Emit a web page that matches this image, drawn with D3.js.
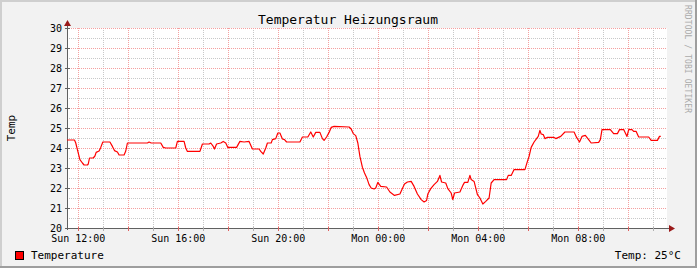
<!DOCTYPE html>
<html>

<head>
  <meta charset="utf-8">
  <title>Temperatur Heizungsraum</title>
  <style>
    body { margin: 0; background: #f2f2f2; }
    text { font-family: "DejaVu Sans Mono", monospace; fill: #000; }
  </style>
</head>

<body>
  <svg width="697" height="268"></svg>
  <script src="https://d3js.org/d3.v7.min.js"></script>
  <script>
    // readings (day + time), values in degrees C
    var times = [
      "Sun 11:33", "Sun 11:51", "Sun 11:54", "Sun 11:59", "Sun 12:04", "Sun 12:10", "Sun 12:14", "Sun 12:22",
      "Sun 12:24", "Sun 12:27", "Sun 12:36", "Sun 12:40", "Sun 12:43", "Sun 12:50", "Sun 12:54", "Sun 12:59",
      "Sun 13:16", "Sun 13:22", "Sun 13:27", "Sun 13:34", "Sun 13:38", "Sun 13:50", "Sun 13:54", "Sun 13:58",
      "Sun 14:46", "Sun 14:50", "Sun 14:55", "Sun 15:18", "Sun 15:24", "Sun 15:30", "Sun 15:54", "Sun 15:58",
      "Sun 16:14", "Sun 16:18", "Sun 16:22", "Sun 16:52", "Sun 16:58", "Sun 17:14", "Sun 17:18", "Sun 17:24",
      "Sun 17:27", "Sun 17:32", "Sun 17:42", "Sun 17:48", "Sun 17:54", "Sun 17:59", "Sun 18:20", "Sun 18:28",
      "Sun 18:38", "Sun 18:50", "Sun 18:58", "Sun 19:14", "Sun 19:18", "Sun 19:24", "Sun 19:30", "Sun 19:34",
      "Sun 19:43", "Sun 19:46", "Sun 19:54", "Sun 19:59", "Sun 20:04", "Sun 20:10", "Sun 20:15", "Sun 20:20",
      "Sun 20:52", "Sun 20:58", "Sun 21:11", "Sun 21:18", "Sun 21:24", "Sun 21:30", "Sun 21:40", "Sun 21:46",
      "Sun 21:50", "Sun 21:56", "Sun 22:02", "Sun 22:07", "Sun 22:14", "Sun 22:50", "Sun 22:55", "Sun 23:00",
      "Sun 23:06", "Sun 23:11", "Sun 23:16", "Sun 23:22", "Sun 23:27", "Sun 23:32", "Sun 23:38", "Sun 23:43",
      "Sun 23:50", "Sun 23:54", "Sun 23:59", "Mon 00:06", "Mon 00:20", "Mon 00:28", "Mon 00:39", "Mon 00:52",
      "Mon 00:58", "Mon 01:03", "Mon 01:10", "Mon 01:19", "Mon 01:26", "Mon 01:34", "Mon 01:43", "Mon 01:50",
      "Mon 01:56", "Mon 01:59", "Mon 02:06", "Mon 02:14", "Mon 02:22", "Mon 02:28", "Mon 02:32", "Mon 02:42",
      "Mon 02:47", "Mon 02:55", "Mon 02:59", "Mon 03:03", "Mon 03:16", "Mon 03:24", "Mon 03:27", "Mon 03:35",
      "Mon 03:40", "Mon 03:43", "Mon 03:50", "Mon 03:58", "Mon 04:04", "Mon 04:11", "Mon 04:18", "Mon 04:26",
      "Mon 04:31", "Mon 04:38", "Mon 05:08", "Mon 05:12", "Mon 05:19", "Mon 05:26", "Mon 05:52", "Mon 05:58",
      "Mon 06:02", "Mon 06:07", "Mon 06:14", "Mon 06:20", "Mon 06:24", "Mon 06:28", "Mon 06:31", "Mon 06:36",
      "Mon 06:40", "Mon 06:46", "Mon 07:02", "Mon 07:06", "Mon 07:18", "Mon 07:28", "Mon 07:50", "Mon 07:56",
      "Mon 08:03", "Mon 08:09", "Mon 08:17", "Mon 08:25", "Mon 08:31", "Mon 08:49", "Mon 08:53", "Mon 08:57",
      "Mon 09:17", "Mon 09:25", "Mon 09:34", "Mon 09:39", "Mon 09:49", "Mon 09:53", "Mon 09:57", "Mon 10:01",
      "Mon 10:09", "Mon 10:13", "Mon 10:19", "Mon 10:25", "Mon 10:49", "Mon 10:55", "Mon 11:10", "Mon 11:15",
      "Mon 11:18"
    ];
    var temps = [
      24.4, 24.4, 24.25, 23.83, 23.42, 23.25, 23.15, 23.15,
      23.2, 23.5, 23.5, 23.6, 23.78, 23.85, 24.03, 24.3,
      24.3, 24.08, 23.87, 23.8, 23.65, 23.65, 23.85, 24.25,
      24.25, 24.3, 24.25, 24.25, 24.03, 24.0, 24.0, 24.33,
      24.33, 24.0, 23.83, 23.83, 24.2, 24.2, 24.25, 24.08,
      23.95, 24.2, 24.25, 24.33, 24.25, 24.03, 24.03, 24.33,
      24.3, 24.33, 23.95, 23.95, 23.83, 23.7, 24.0, 24.25,
      24.25, 24.42, 24.47, 24.75, 24.75, 24.45, 24.42, 24.3,
      24.3, 24.55, 24.55, 24.8, 24.55, 24.78, 24.78, 24.47,
      24.38, 24.55, 24.78, 25.03, 25.08, 25.05, 24.95, 24.72,
      24.62, 24.25, 23.58, 23.03, 22.75, 22.53, 22.17, 22.0,
      21.95, 22.0, 22.28, 22.08, 22.05, 21.8, 21.63, 21.7,
      21.97, 22.2, 22.3, 22.33, 22.08, 21.7, 21.42, 21.3,
      21.38, 21.7, 21.97, 22.17, 22.33, 22.63, 22.3, 22.25,
      21.97, 21.75, 21.42, 21.75, 21.8, 22.17, 22.28, 22.28,
      22.63, 22.42, 22.33, 21.67, 21.5, 21.2, 21.33, 21.5,
      22.25, 22.42, 22.42, 22.63, 22.63, 22.92, 22.92, 23.33,
      23.58, 24.03, 24.3, 24.47, 24.58, 24.88, 24.7, 24.67,
      24.47, 24.53, 24.53, 24.47, 24.58, 24.8, 24.8, 24.53,
      24.3, 24.58, 24.63, 24.42, 24.25, 24.28, 24.42, 24.92,
      24.92, 24.72, 24.72, 24.92, 24.92, 24.75, 24.58, 24.92,
      24.92, 24.83, 24.83, 24.55, 24.55, 24.38, 24.38, 24.58,
      24.58
    ];
    var yTicks = [20, 21, 22, 23, 24, 25, 26, 27, 28, 29, 30];
    var title = "Temperatur Heizungsraum";
    var legendLabel = "Temperature";
    var legendValue = "Temp: 25°C";

    function parseTime(s) {
      var parts = s.split(" ");
      var hm = parts[1].split(":");
      var day = parts[0] == "Mon" ? 1 : 0;
      return new Date(2011, 0, 2 + day, +hm[0], +hm[1]);
    }
    var data = times.map(function (t, i) {
      return { time: parseTime(t), temp: temps[i] };
    });

    var plotLeft = 67, plotRight = 667, plotTop = 28, plotBottom = 228;
    var start = new Date(2011, 0, 2, 11, 33);
    var end = new Date(2011, 0, 3, 11, 33);

    var xScale = d3.scaleTime().domain([start, end]).range([plotLeft, plotRight]);
    var yScale = d3.scaleLinear().domain([20, 30]).range([plotBottom, plotTop]);

    var svg = d3.select("svg");

    // background + 3d frame
    svg.append("rect").attr("width", 697).attr("height", 268).attr("fill", "#f2f2f2");
    svg.append("rect").attr("x", 0).attr("y", 0).attr("width", 697).attr("height", 2).attr("fill", "#cfcfcf");
    svg.append("rect").attr("x", 0).attr("y", 0).attr("width", 2).attr("height", 268).attr("fill", "#cfcfcf");
    svg.append("rect").attr("x", 0).attr("y", 266).attr("width", 697).attr("height", 2).attr("fill", "#9e9e9e");
    svg.append("rect").attr("x", 695).attr("y", 0).attr("width", 2).attr("height", 268).attr("fill", "#9e9e9e");

    // canvas
    svg.append("rect")
      .attr("x", plotLeft).attr("y", plotTop)
      .attr("width", plotRight - plotLeft).attr("height", plotBottom - plotTop)
      .attr("fill", "#ffffff");

    // grid
    var hours = d3.timeHour.every(1).range(start, end);
    var halfSteps = d3.range(20.5, 30, 1);

    svg.selectAll(".hgrid-minor")
      .data(halfSteps)
      .enter().append("line")
      .attr("x1", plotLeft).attr("x2", plotRight)
      .attr("y1", d => Math.round(yScale(d)) + 0.5)
      .attr("y2", d => Math.round(yScale(d)) + 0.5)
      .attr("stroke", "#c8c8c8").attr("stroke-dasharray", "1,1");

    svg.selectAll(".vgrid")
      .data(hours)
      .enter().append("line")
      .attr("x1", d => Math.round(xScale(d)) + 0.5)
      .attr("x2", d => Math.round(xScale(d)) + 0.5)
      .attr("y1", plotTop).attr("y2", plotBottom)
      .attr("stroke", d => d.getHours() % 2 == 0 ? "#f4a0a0" : "#c8c8c8")
      .attr("stroke-dasharray", "1,1");

    svg.selectAll(".hgrid-major")
      .data(yTicks.slice(1))
      .enter().append("line")
      .attr("x1", plotLeft).attr("x2", plotRight)
      .attr("y1", d => Math.round(yScale(d)) + 0.5)
      .attr("y2", d => Math.round(yScale(d)) + 0.5)
      .attr("stroke", "#f4a0a0").attr("stroke-dasharray", "1,1");

    // axes
    svg.append("line")
      .attr("x1", plotLeft + 0.5).attr("x2", plotLeft + 0.5)
      .attr("y1", plotBottom + 2).attr("y2", plotTop - 4)
      .attr("stroke", "#606060");
    svg.append("line")
      .attr("x1", plotLeft - 2).attr("x2", plotRight + 4)
      .attr("y1", plotBottom + 0.5).attr("y2", plotBottom + 0.5)
      .attr("stroke", "#606060");
    svg.append("path")
      .attr("d", "M" + (plotLeft - 3) + "," + (plotTop - 2) + "L" + (plotLeft + 0.5) + "," + (plotTop - 8) + "L" + (plotLeft + 4) + "," + (plotTop - 2) + "Z")
      .attr("fill", "#9a1a1a");
    svg.append("path")
      .attr("d", "M" + (plotRight + 2) + "," + (plotBottom - 3) + "L" + (plotRight + 8) + "," + (plotBottom + 0.5) + "L" + (plotRight + 2) + "," + (plotBottom + 4) + "Z")
      .attr("fill", "#9a1a1a");

    // tick marks
    svg.selectAll(".ytick")
      .data(yTicks)
      .enter().append("line")
      .attr("x1", plotLeft - 2).attr("x2", plotLeft + 3)
      .attr("y1", d => Math.round(yScale(d)) + 0.5)
      .attr("y2", d => Math.round(yScale(d)) + 0.5)
      .attr("stroke", "#606060");
    svg.selectAll(".xtick")
      .data(hours)
      .enter().append("line")
      .attr("x1", d => Math.round(xScale(d)) + 0.5)
      .attr("x2", d => Math.round(xScale(d)) + 0.5)
      .attr("y1", plotBottom - 1).attr("y2", plotBottom + 3)
      .attr("stroke", d => d.getHours() % 2 == 0 ? "#e06060" : "#b0b0b0");

    // tick labels
    svg.selectAll(".ylabel")
      .data(yTicks)
      .enter().append("text")
      .attr("x", plotLeft - 5)
      .attr("y", d => yScale(d) + 4)
      .attr("text-anchor", "end")
      .style("font-size", "10px")
      .text(d => d);

    var fmt = d3.timeFormat("%a %H:%M");
    svg.selectAll(".xlabel")
      .data(hours.filter(d => d.getHours() % 4 == 0))
      .enter().append("text")
      .attr("x", d => xScale(d))
      .attr("y", plotBottom + 14)
      .attr("text-anchor", "middle")
      .style("font-size", "10px")
      .text(d => fmt(d));

    // data line
    var line = d3.line()
      .x(d => xScale(d.time))
      .y(d => yScale(d.temp));
    svg.append("path")
      .attr("d", line(data))
      .attr("fill", "none")
      .attr("stroke", "#ff0000")
      .attr("stroke-width", 1.2)
      .attr("stroke-linejoin", "round");

    // title + labels
    svg.append("text")
      .attr("x", 348).attr("y", 24)
      .attr("text-anchor", "middle")
      .style("font-size", "13px")
      .text(title);

    svg.append("text")
      .attr("transform", "translate(15,128) rotate(-90)")
      .attr("text-anchor", "middle")
      .style("font-size", "11px")
      .text("Temp");

    svg.append("text")
      .attr("transform", "translate(685,5) rotate(90)")
      .attr("text-anchor", "start")
      .style("font-size", "8px")
      .style("fill", "#aaaaaa")
      .attr("textLength", 108)
      .text("RRDTOOL / TOBI OETIKER");

    // legend
    svg.append("rect")
      .attr("x", 15.5).attr("y", 251.5)
      .attr("width", 8).attr("height", 8)
      .attr("fill", "#ff0000").attr("stroke", "#000");
    svg.append("text")
      .attr("x", 31).attr("y", 259)
      .style("font-size", "11px")
      .text(legendLabel);
    svg.append("text")
      .attr("x", 681).attr("y", 259)
      .attr("text-anchor", "end")
      .style("font-size", "11px")
      .text(legendValue);
  </script>

</body>

</html>
